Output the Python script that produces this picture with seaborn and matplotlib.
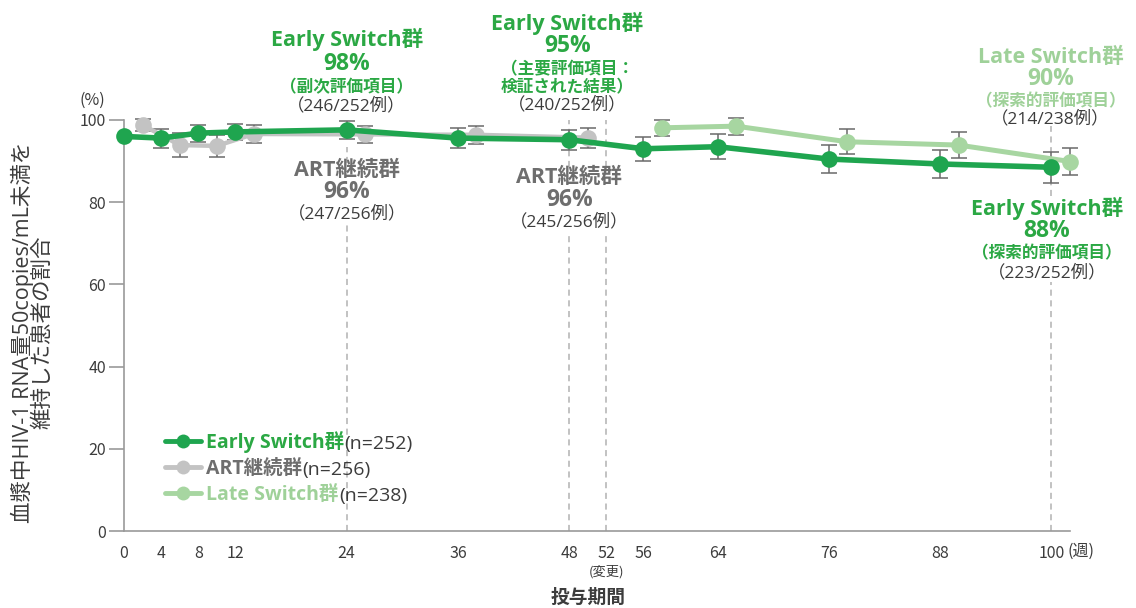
import numpy as np
import pandas as pd
import matplotlib
matplotlib.use("Agg")
import matplotlib.pyplot as plt
import seaborn as sns
from matplotlib.lines import Line2D

# ---- data -------------------------------------------------------------
weeks_early = [0, 4, 8, 12, 24, 36, 48, 56, 64, 76, 88, 100]
early_pct = [96.0, 95.6, 96.8, 97.1, 97.6, 95.6, 95.2, 93.0, 93.5, 90.5, 89.3, 88.5]
early_err = [0.0, 2.3, 2.1, 2.0, 2.2, 2.4, 2.4, 2.9, 3.0, 3.5, 3.5, 3.8]

weeks_art = [0, 4, 8, 12, 24, 36, 48]
art_pct = [98.8, 93.9, 93.7, 96.6, 96.5, 96.4, 95.7]
art_err = [1.5, 2.9, 2.6, 2.1, 2.1, 2.2, 2.4]

weeks_late = [56, 64, 76, 88, 100]
late_pct = [98.1, 98.5, 94.7, 93.9, 89.9]
late_err = [2.0, 2.1, 3.0, 3.2, 3.4]

group_names = ["Early Switch群", "ART継続群", "Late Switch群"]
group_n = [252, 256, 238]

x_ticks = [0, 4, 8, 12, 24, 36, 48, 52, 56, 64, 76, 88, 100]
y_ticks = [0, 20, 40, 60, 80, 100]

# ---- style ------------------------------------------------------------
GREEN = "#1fa54f"
GREEN_TXT = "#2ba844"
GRAY = "#c3c3c3"
GRAY_TXT = "#6e6e6e"
LIGHT = "#a7d6a1"
LIGHT_TXT = "#9fd199"
DARK = "#3c3c3c"
ERR = "#6a6a6a"
DODGE = 2.0  # horizontal offset for the comparison groups
LABEL_FONT = ["Open Sans", "Noto Sans CJK JP", "DejaVu Sans"]

sns.set_theme(style="white")
plt.rcParams["font.family"] = ["Noto Sans CJK JP", "DejaVu Sans"]

fig = plt.figure(figsize=(11.36, 6.08), dpi=100)
ax = fig.add_axes([124 / 1136, 1 - 531 / 608, 946 / 1136, 411 / 608])

df = pd.concat([
    pd.DataFrame({"week": np.array(weeks_art) + DODGE, "pct": art_pct, "err": art_err, "group": group_names[1]}),
    pd.DataFrame({"week": np.array(weeks_late) + DODGE, "pct": late_pct, "err": late_err, "group": group_names[2]}),
    pd.DataFrame({"week": weeks_early, "pct": early_pct, "err": early_err, "group": group_names[0]}),
], ignore_index=True)

styles = {
    group_names[1]: dict(color=GRAY, lw=3.2, z=3),
    group_names[2]: dict(color=LIGHT, lw=3.6, z=3),
    group_names[0]: dict(color=GREEN, lw=4.0, z=4),
}

for name in [group_names[1], group_names[2], group_names[0]]:
    sub = df[df["group"] == name]
    st = styles[name]
    has_err = sub["err"] > 0
    ax.errorbar(sub["week"][has_err], sub["pct"][has_err], yerr=sub["err"][has_err],
                fmt="none", ecolor=ERR, elinewidth=1.1, capsize=5.5, capthick=1.1,
                zorder=2, clip_on=False)
    sns.lineplot(data=sub, x="week", y="pct", ax=ax, color=st["color"], lw=st["lw"],
                 marker="o", markersize=12, markeredgewidth=0, zorder=st["z"],
                 clip_on=False, errorbar=None, sort=False, legend=False)

# ---- axes -------------------------------------------------------------
ax.set_xlim(0, 102)
ax.set_ylim(0, 100)
ax.set_xticks(x_ticks)
ax.set_yticks(y_ticks)
ax.set_xlabel("")
ax.set_ylabel("")
for side in ["top", "right"]:
    ax.spines[side].set_visible(False)
for side in ["left", "bottom"]:
    ax.spines[side].set_color("#9a9a9a")
    ax.spines[side].set_linewidth(1.2)
ax.tick_params(axis="y", length=11, width=1.2, color="#9a9a9a", labelsize=11.5,
               labelcolor=DARK, pad=2, left=True)
ax.tick_params(axis="x", length=0, labelsize=11.5, labelcolor=DARK, pad=10)
ax.grid(False)

# dashed reference lines (gaps leave room for the labels)
ref_segments = {24: [(0, 74.5), (89.5, 93.5)],
                48: [(0, 72.5), (88.5, 100)],
                52: [(0, 72.5), (88.5, 100)],
                100: [(0, 60.5), (81.5, 98.5)]}
for wk, segs in ref_segments.items():
    for y0, y1 in segs:
        ax.plot([wk, wk], [y0, y1], color="#b2b2b2", lw=1.1, ls=(0, (4, 3)), zorder=1)

# ---- text blocks ------------------------------------------------------
def block(x, lines):
    for txt, y, color, size, weight in lines:
        ax.text(x, y, txt, color=color, fontsize=size, fontweight=weight,
                family=LABEL_FONT, ha="center", va="center", zorder=6, clip_on=False)

T, P, S, C = 15.5, 16.5, 12, 12.5
block(24, [("Early Switch群", 119.5, GREEN_TXT, T, "bold"),
           ("98%", 113.7, GREEN_TXT, P, "bold"),
           ("（副次評価項目）", 108.0, GREEN_TXT, S, "bold"),
           ("（246/252例）", 103.4, DARK, C, "normal")])
block(47.8, [("Early Switch群", 123.5, GREEN_TXT, T, "bold"),
             ("95%", 118.0, GREEN_TXT, P, "bold"),
             ("（主要評価項目：", 112.4, GREEN_TXT, S, "bold"),
             ("検証された結果）", 107.9, GREEN_TXT, S, "bold"),
             ("（240/252例）", 103.6, DARK, C, "normal")])
block(99.9, [("Late Switch群", 115.3, LIGHT_TXT, T, "bold"),
             ("90%", 110.0, LIGHT_TXT, P, "bold"),
             ("（探索的評価項目）", 104.6, LIGHT_TXT, S, "bold"),
             ("（214/238例）", 100.2, DARK, C, "normal")])
block(99.5, [("Early Switch群", 78.6, GREEN_TXT, T, "bold"),
             ("88%", 73.0, GREEN_TXT, P, "bold"),
             ("（探索的評価項目）", 67.6, GREEN_TXT, S, "bold"),
             ("（223/252例）", 62.8, DARK, C, "normal")])
block(24, [("ART継続群", 87.8, GRAY_TXT, T, "bold"),
           ("96%", 82.5, GRAY_TXT, P, "bold"),
           ("（247/256例）", 77.1, DARK, C, "normal")])
block(48, [("ART継続群", 85.9, GRAY_TXT, T, "bold"),
           ("96%", 80.5, GRAY_TXT, P, "bold"),
           ("（245/256例）", 75.2, DARK, C, "normal")])

ax.text(-3.4, 104.9, "(%)", ha="center", va="center", fontsize=11.5, color=DARK, clip_on=False)
ax.text(101.7, -4.9, "(週)", ha="left", va="center", fontsize=11.5, color=DARK, clip_on=False)
ax.text(52, -10.0, "(変更)", ha="center", va="center", fontsize=9.5, color=DARK, clip_on=False)
ax.text(50, -16.1, "投与期間", ha="center", va="center", fontsize=13.5, fontweight="bold",
        color=DARK, clip_on=False)

fig.text(32 / 1136, 1 - 332 / 608, "血漿中HIV-1 RNA量50copies/mL未満を\n維持した患者の割合",
         rotation=90, ha="center", va="center", multialignment="center",
         fontsize=15.5, family=LABEL_FONT, color=DARK, linespacing=0.85)

# ---- legend -----------------------------------------------------------
leg_colors = [GREEN, GRAY, LIGHT]
txt_colors = [GREEN_TXT, GRAY_TXT, LIGHT_TXT]
handles = [Line2D([], [], color=c, lw=3.5, marker="o", markersize=10, markeredgewidth=0)
           for c in leg_colors]
leg = ax.legend(handles, group_names, loc="upper left", bbox_to_anchor=(0.043, 0.243),
                frameon=False, prop={"size": 14, "weight": "bold", "family": LABEL_FONT},
                handlelength=1.85, handletextpad=0.3, labelspacing=0.3,
                borderaxespad=0, borderpad=0)
for t, c in zip(leg.get_texts(), txt_colors):
    t.set_color(c)

# group sizes follow each legend entry in regular weight
fig.canvas.draw()
W, H = fig.bbox.width, fig.bbox.height
for t, n in zip(leg.get_texts(), group_n):
    bb = t.get_window_extent()
    fig.text(bb.x1 / W, bb.y0 / H, f"(n={n})", ha="left", va="bottom",
             fontsize=14, family=LABEL_FONT, color=DARK)

fig.savefig("out.png", dpi=100)
